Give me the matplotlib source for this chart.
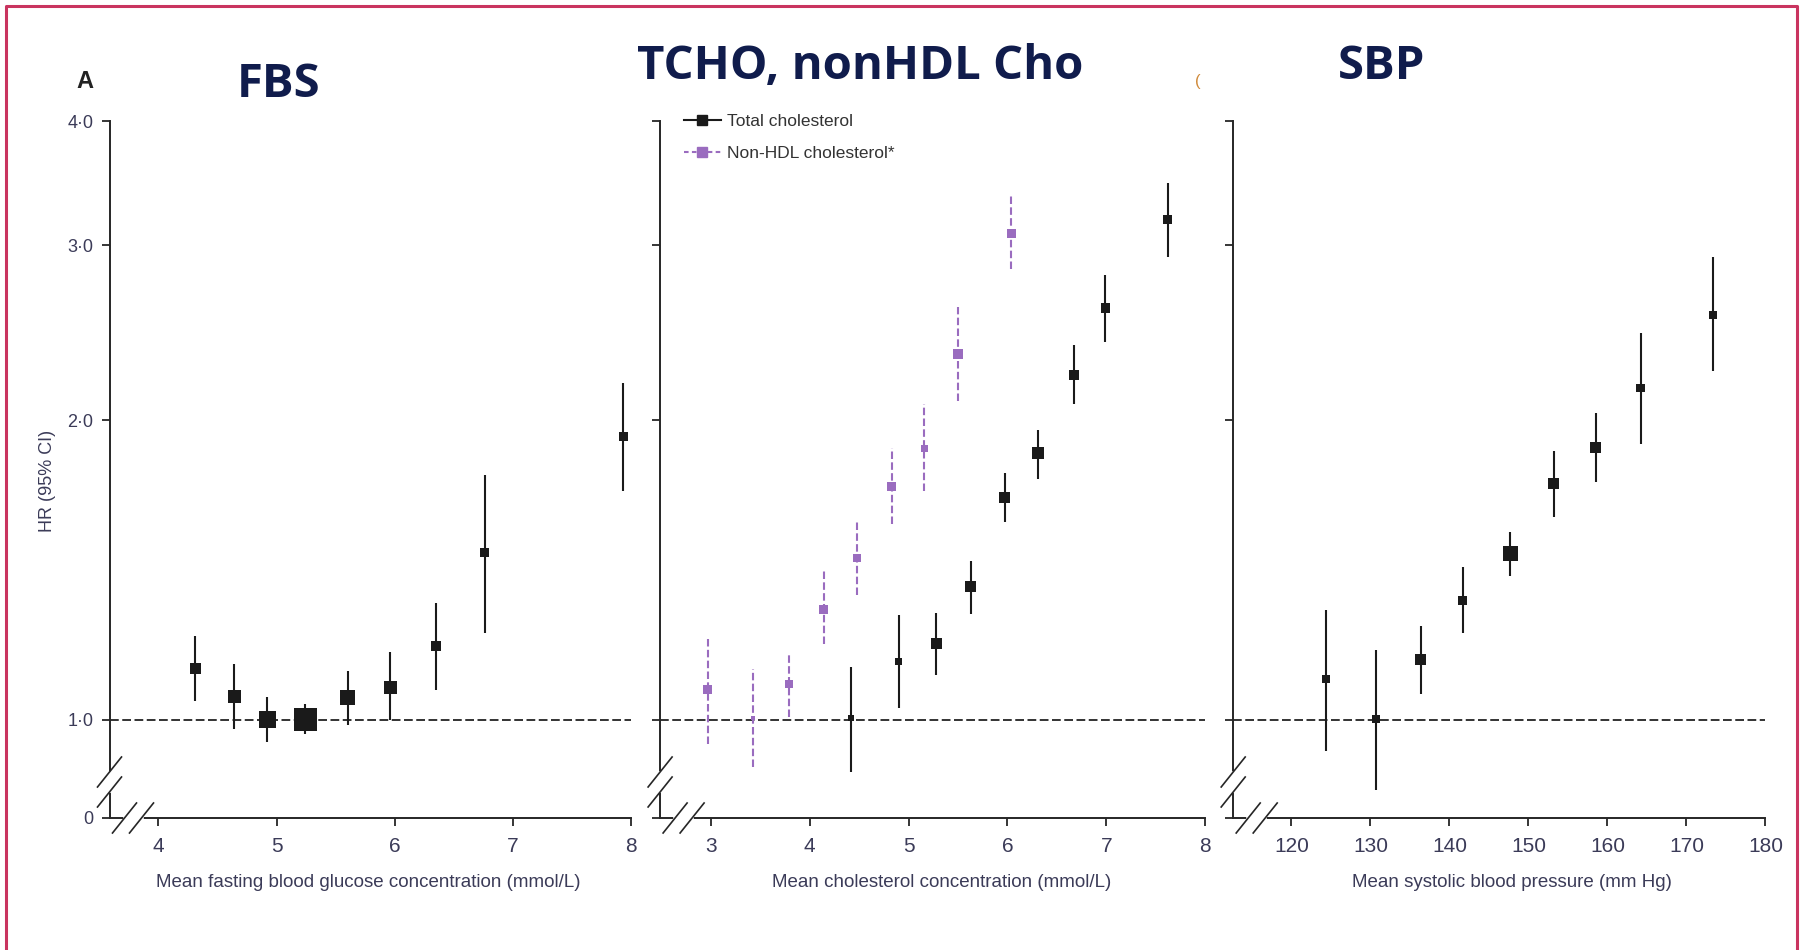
import numpy as np
import matplotlib
matplotlib.use("Agg")
import matplotlib.pyplot as plt
from matplotlib.lines import Line2D
from matplotlib.ticker import FixedLocator, NullLocator

# ---- data (HR with 95% CI) ----
# A: fasting blood glucose (mmol/L)
fbs_x = [4.31, 4.64, 4.92, 5.24, 5.60, 5.96, 6.35, 6.76, 7.93]
fbs_hr = [1.127, 1.055, 1.000, 1.000, 1.053, 1.078, 1.187, 1.473, 1.925]
fbs_lo = [1.045, 0.979, 0.951, 0.968, 0.989, 1.000, 1.073, 1.223, 1.699]
fbs_hi = [1.215, 1.138, 1.054, 1.037, 1.120, 1.169, 1.312, 1.762, 2.180]

# total cholesterol (mmol/L)
tc_x = [4.42, 4.90, 5.28, 5.63, 5.97, 6.31, 6.67, 6.99, 7.62]
tc_hr = [1.004, 1.146, 1.193, 1.362, 1.674, 1.854, 2.221, 2.594, 3.185]
tc_lo = [0.886, 1.027, 1.109, 1.279, 1.582, 1.746, 2.079, 2.397, 2.918]
tc_hi = [1.131, 1.276, 1.282, 1.446, 1.771, 1.955, 2.380, 2.802, 3.469]

# non-HDL cholesterol (mmol/L)
nhdl_x = [2.97, 3.43, 3.79, 4.14, 4.48, 4.83, 5.16, 5.50, 6.04]
nhdl_hr = [1.073, 1.004, 1.086, 1.291, 1.455, 1.717, 1.876, 2.333, 3.082]
nhdl_lo = [0.946, 0.896, 1.008, 1.191, 1.334, 1.574, 1.700, 2.092, 2.841]
nhdl_hi = [1.207, 1.125, 1.171, 1.417, 1.580, 1.876, 2.079, 2.600, 3.382]

# systolic blood pressure (mm Hg)
sbp_x = [124.4, 130.7, 136.4, 141.7, 147.7, 153.2, 158.5, 164.2, 173.4]
sbp_hr = [1.099, 1.002, 1.149, 1.320, 1.469, 1.728, 1.878, 2.155, 2.551]
sbp_lo = [0.930, 0.851, 1.061, 1.224, 1.395, 1.599, 1.735, 1.893, 2.245]
sbp_hi = [1.291, 1.176, 1.243, 1.425, 1.546, 1.862, 2.034, 2.448, 2.918]

# marker side lengths (px) - box size shows weight
fbs_ms = [11, 13, 17, 23, 15, 13, 10, 9, 9]
tc_ms = [6, 7, 11, 11, 11, 12, 10, 9.5, 9.5]
nhdl_ms = [9, 4, 8, 9, 7.5, 9, 7, 10, 9.5]
sbp_ms = [8, 7.5, 11, 9, 15, 10.5, 10.5, 8.5, 8]

W, H = 1802, 950
PX = 72.0 / 100  # px -> pt
Y0 = 0.797  # where the broken axis shows "0"
DARK = "#262626"
TXT = "#3b3b58"
PURPLE = "#9a6cbf"
NARROW = ["Liberation Sans", "DejaVu Sans"]
BOLD = ["Open Sans", "Noto Sans", "DejaVu Sans"]

fig = plt.figure(figsize=(W / 100, H / 100), dpi=100)
fig.patch.set_facecolor("white")


def make_ax(left, right, xlim, xticks, xticklabels, xlabel, label_cx, show_y):
    top, bottom = 121, 818
    ax = fig.add_axes([left / W, 1 - bottom / H, (right - left) / W, (bottom - top) / H])
    ax.set_yscale("log")
    ax.set_ylim(Y0, 4.0)
    ax.set_xlim(*xlim)
    ax.yaxis.set_major_locator(FixedLocator([Y0, 1, 2, 3, 4]))
    ax.yaxis.set_minor_locator(NullLocator())
    if show_y:
        ax.set_yticklabels(["0", "1·0", "2·0", "3·0", "4·0"])
    else:
        ax.set_yticklabels([])
    ax.set_xticks(xticks)
    ax.set_xticklabels(xticklabels)
    for s in ["top", "right"]:
        ax.spines[s].set_visible(False)
    for s in ["left", "bottom"]:
        ax.spines[s].set_linewidth(1.4)
        ax.spines[s].set_color(DARK)
    ax.tick_params(axis="both", direction="out", length=5.5, width=1.3, color=DARK)
    ax.tick_params(axis="x", labelsize=15, labelcolor=TXT, pad=8)
    ax.tick_params(axis="y", labelsize=13, labelcolor=TXT, pad=6)
    for t in ax.get_xticklabels() + ax.get_yticklabels():
        t.set_family(NARROW)
    ax.set_xlabel(xlabel, fontsize=13.5, color=TXT, family=NARROW)
    ax.xaxis.set_label_coords((label_cx - left) / (right - left), -(874 - 818) / (bottom - top))
    ax.axhline(1.0, color="#333333", lw=1.4, ls=(0, (4.5, 1.8)), zorder=1, clip_on=False)
    ax.patch.set_alpha(0)

    # axis breaks: gap + two slashes on each spine
    fig.add_artist(Line2D([left / W, left / W], [1 - 774 / H, 1 - 790 / H],
                          transform=fig.transFigure, color="white", lw=4, zorder=5))
    fig.add_artist(Line2D([(left + 16) / W, (left + 31) / W], [1 - bottom / H, 1 - bottom / H],
                          transform=fig.transFigure, color="white", lw=4, zorder=5))
    for cy in [772, 792]:
        fig.add_artist(Line2D([(left - 12) / W, (left + 12) / W], [1 - (cy + 15) / H, 1 - (cy - 15) / H],
                              transform=fig.transFigure, color=DARK, lw=1.2, zorder=6))
    for cx in [left + 15, left + 32]:
        fig.add_artist(Line2D([(cx - 12) / W, (cx + 12) / W], [1 - (bottom + 15) / H, 1 - (bottom - 15) / H],
                              transform=fig.transFigure, color=DARK, lw=1.2, zorder=6))
    return ax


def draw_series(ax, x, hr, lo, hi, ms, color, dashed=False):
    x = np.array(x)
    hr = np.array(hr)
    err = [hr - np.array(lo), np.array(hi) - hr]
    eb = ax.errorbar(x, hr, yerr=err, fmt="none", ecolor=color, elinewidth=1.5, capsize=0, zorder=3)
    if dashed:
        eb[2][0].set_linestyle((0, (3.6, 1.6)))
    ax.scatter(x, hr, s=(np.array(ms) * PX) ** 2, marker="s", color=color, zorder=4, linewidths=0)


# panel A: FBS
ax1 = make_ax(109.5, 631.4, (3.586, 8.0), [4, 5, 6, 7, 8], ["4", "5", "6", "7", "8"],
              "Mean fasting blood glucose concentration (mmol/L)", 368, True)
draw_series(ax1, fbs_x, fbs_hr, fbs_lo, fbs_hi, fbs_ms, "#1a1a1a")

# panel: cholesterol
ax2 = make_ax(660.1, 1205.3, (2.488, 8.0), [3, 4, 5, 6, 7, 8], ["3", "4", "5", "6", "7", "8"],
              "Mean cholesterol concentration (mmol/L)", 942, False)
draw_series(ax2, nhdl_x, nhdl_hr, nhdl_lo, nhdl_hi, nhdl_ms, PURPLE, dashed=True)
draw_series(ax2, tc_x, tc_hr, tc_lo, tc_hi, tc_ms, "#1a1a1a")
handles = [Line2D([], [], color="#1a1a1a", marker="s", ms=7, lw=1.5),
           Line2D([], [], color=PURPLE, marker="s", ms=7, lw=1.5, ls=(0, (2.2, 1.6)))]
leg = ax2.legend(handles, ["Total cholesterol", "Non-HDL cholesterol*"], loc="upper left",
                 bbox_to_anchor=(0.028, 1.022), frameon=False, handlelength=2.1,
                 handletextpad=0.4, labelspacing=0.95, borderpad=0,
                 prop={"family": NARROW, "size": 12.5})
for t in leg.get_texts():
    t.set_color("#333333")

# panel: SBP
ax3 = make_ax(1233.2, 1765.4, (112.63, 180), list(range(120, 181, 10)),
              [str(v) for v in range(120, 181, 10)],
              "Mean systolic blood pressure (mm Hg)", 1512, False)
draw_series(ax3, sbp_x, sbp_hr, sbp_lo, sbp_hi, sbp_ms, "#1a1a1a")

# titles and labels
fig.text(279 / W, 1 - 97 / H, "FBS", ha="center", va="baseline", fontsize=34,
         fontweight="bold", color="#101c4c", family=BOLD)
fig.text(860 / W, 1 - 79 / H, "TCHO, nonHDL Cho", ha="center", va="baseline", fontsize=34,
         fontweight="bold", color="#101c4c", family=BOLD)
fig.text(1382 / W, 1 - 79 / H, "SBP", ha="center", va="baseline", fontsize=34,
         fontweight="bold", color="#101c4c", family=BOLD)
fig.text(85 / W, 1 - 88 / H, "A", ha="center", va="baseline", fontsize=17,
         fontweight="bold", color="#222222", family=NARROW)
fig.text(1198 / W, 1 - 86 / H, "(", ha="center", va="baseline", fontsize=12,
         color="#d08a3a", family=NARROW)
fig.text(48 / W, 1 - 481 / H, "HR (95% CI)", rotation=90, ha="center", va="center",
         fontsize=13, color=TXT, family=NARROW)

# crimson frame (open at the bottom)
frame = "#c9345f"
fig.add_artist(Line2D([6 / W, 6 / W, 1797 / W, 1797 / W], [0, 1 - 6 / H, 1 - 6 / H, 0],
                      transform=fig.transFigure, color=frame, lw=2.2))

fig.savefig("out.png", dpi=100)
